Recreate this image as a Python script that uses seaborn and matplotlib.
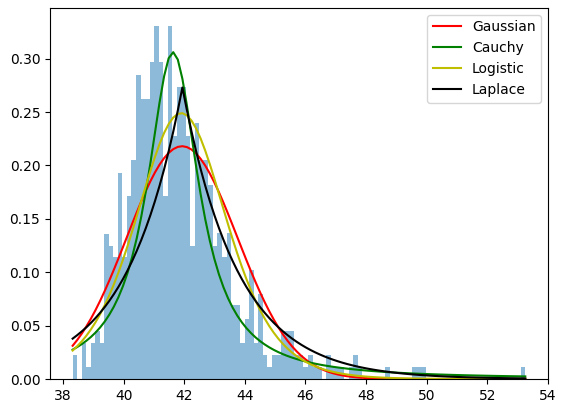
import numpy as np
import pandas as pd
import seaborn as sns
import matplotlib
matplotlib.use("Agg")
import matplotlib.pyplot as plt

# histogram range and bar heights (density)
x_min, x_max = 38.32, 53.25
density = [
    0.0226, 0.0, 0.0335, 0.0116, 0.0335, 0.045, 0.0335, 0.136, 0.125, 0.114,
    0.193, 0.114, 0.171, 0.205, 0.285, 0.262, 0.262, 0.297, 0.331, 0.297,
    0.171, 0.331, 0.228, 0.273, 0.273, 0.228, 0.125, 0.240, 0.205, 0.205,
    0.182, 0.125, 0.137, 0.114, 0.137, 0.069, 0.069, 0.034, 0.056, 0.102,
    0.034, 0.080, 0.0226, 0.0116, 0.0226, 0.0226, 0.045, 0.045, 0.045, 0.0226,
    0.0226, 0.0116, 0.0226, 0.0116, 0.0116, 0.0, 0.0226, 0.0116, 0.0116, 0.0116,
    0.0, 0.0116, 0.0226, 0.0116, 0.0, 0.0, 0.0, 0.0, 0.0, 0.0116,
    0.0, 0.0, 0.0, 0.0, 0.0, 0.0116, 0.0116, 0.0116, 0.0, 0.0,
    0.0, 0.0, 0.0, 0.0, 0.0, 0.0, 0.0, 0.0, 0.0, 0.0,
    0.0, 0.0, 0.0, 0.0, 0.0, 0.0, 0.0, 0.0, 0.0, 0.0116,
]

# fitted distribution parameters (estimated from the curves)
gauss_mu, gauss_sigma = 41.93, 1.83
cauchy_x0, cauchy_gamma = 41.63, 1.04
logis_mu, logis_s = 41.90, 1.004
laplace_mu, laplace_b = 41.94, 1.831

n_bins = len(density)
edges = np.linspace(x_min, x_max, n_bins + 1)
hist_df = pd.DataFrame({"x": (edges[:-1] + edges[1:]) / 2, "h": density})
xs = np.linspace(x_min, x_max, 100)

gauss = np.exp(-0.5 * ((xs - gauss_mu) / gauss_sigma) ** 2) / (gauss_sigma * np.sqrt(2 * np.pi))
cauchy = 1 / (np.pi * cauchy_gamma * (1 + ((xs - cauchy_x0) / cauchy_gamma) ** 2))
z = np.exp(-(xs - logis_mu) / logis_s)
logistic = z / (logis_s * (1 + z) ** 2)
laplace = np.exp(-np.abs(xs - laplace_mu) / laplace_b) / (2 * laplace_b)

fig, ax = plt.subplots(figsize=(5.65, 4.13), dpi=100)
fig.subplots_adjust(left=0.0885, right=0.970, top=0.981, bottom=0.0823)

sns.histplot(data=hist_df, x="x", weights="h", bins=n_bins, binrange=(x_min, x_max),
             stat="count", color="C0", alpha=0.5, linewidth=0, ax=ax)
sns.lineplot(x=xs, y=gauss, color="r", label="Gaussian", ax=ax)
sns.lineplot(x=xs, y=cauchy, color="g", label="Cauchy", ax=ax)
sns.lineplot(x=xs, y=logistic, color="y", label="Logistic", ax=ax)
sns.lineplot(x=xs, y=laplace, color="k", label="Laplace", ax=ax)

ax.set_xlabel("")
ax.set_ylabel("")
ax.set_xticks([38, 40, 42, 44, 46, 48, 50, 52, 54])
ax.legend(loc="upper right")

fig.savefig("out.png", dpi=100)
